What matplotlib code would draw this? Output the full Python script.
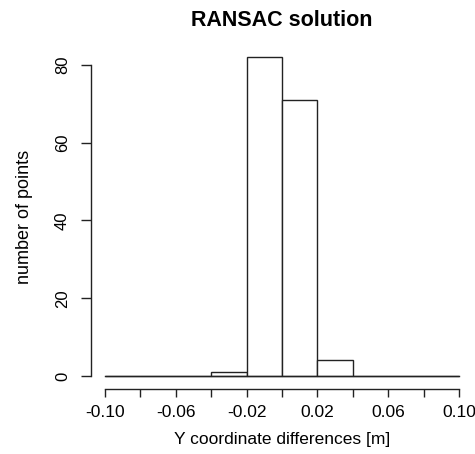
import numpy as np
import matplotlib
matplotlib.use('Agg')
import matplotlib.pyplot as plt

# histogram of Y differences, bins of 0.02 m
bin_edges = [-0.10, -0.08, -0.06, -0.04, -0.02, 0.00, 0.02, 0.04, 0.06, 0.08, 0.10]
counts = [0, 0, 0, 1, 82, 71, 4, 0, 0, 0]
x_ticks = [-0.10, -0.08, -0.06, -0.04, -0.02, 0.00, 0.02, 0.04, 0.06, 0.08, 0.10]
x_labels = ['-0.10', '', '-0.06', '', '-0.02', '', '0.02', '', '0.06', '', '0.10']
y_ticks = [0, 20, 40, 60, 80]

plt.rcParams['font.family'] = ['Liberation Sans', 'DejaVu Sans']

fig = plt.figure(figsize=(4.75, 4.54), dpi=100)
ax = fig.add_axes([0.191, 0.1436, 0.805, 0.7588])

edges = np.array(bin_edges)
ax.bar(edges[:-1], counts, width=np.diff(edges), align='edge',
       facecolor='white', edgecolor='#222222', linewidth=1.0)
# zero-count bins still show up as a flat line along 0
ax.plot([edges[0], edges[-1]], [0, 0], color='#222222', linewidth=1.0)

ax.set_xlim(-0.108, 0.108)
ax.set_ylim(-3.28, 85.28)

for s in ['top', 'right']:
    ax.spines[s].set_visible(False)
ax.spines['left'].set_bounds(0, 80)
ax.spines['bottom'].set_bounds(-0.10, 0.10)
for s in ['left', 'bottom']:
    ax.spines[s].set_color('#222222')
    ax.spines[s].set_linewidth(1.0)

ax.set_xticks(x_ticks)
ax.set_xticklabels(x_labels, fontsize=12.5)
ax.set_yticks(y_ticks)
ax.set_yticklabels([str(v) for v in y_ticks], rotation=90, va='center',
                   fontsize=12)
ax.tick_params(axis='x', length=6, width=1.0, pad=6, color='#222222')
ax.tick_params(axis='y', length=7, width=1.0, pad=8, color='#222222')

ax.set_title('RANSAC solution', fontsize=15.5, fontweight='bold', pad=13)
ax.set_xlabel('Y coordinate differences [m]', fontsize=12.5, labelpad=8)
ax.set_ylabel('number of points', fontsize=13, labelpad=16)

fig.savefig('out.png', dpi=100)
